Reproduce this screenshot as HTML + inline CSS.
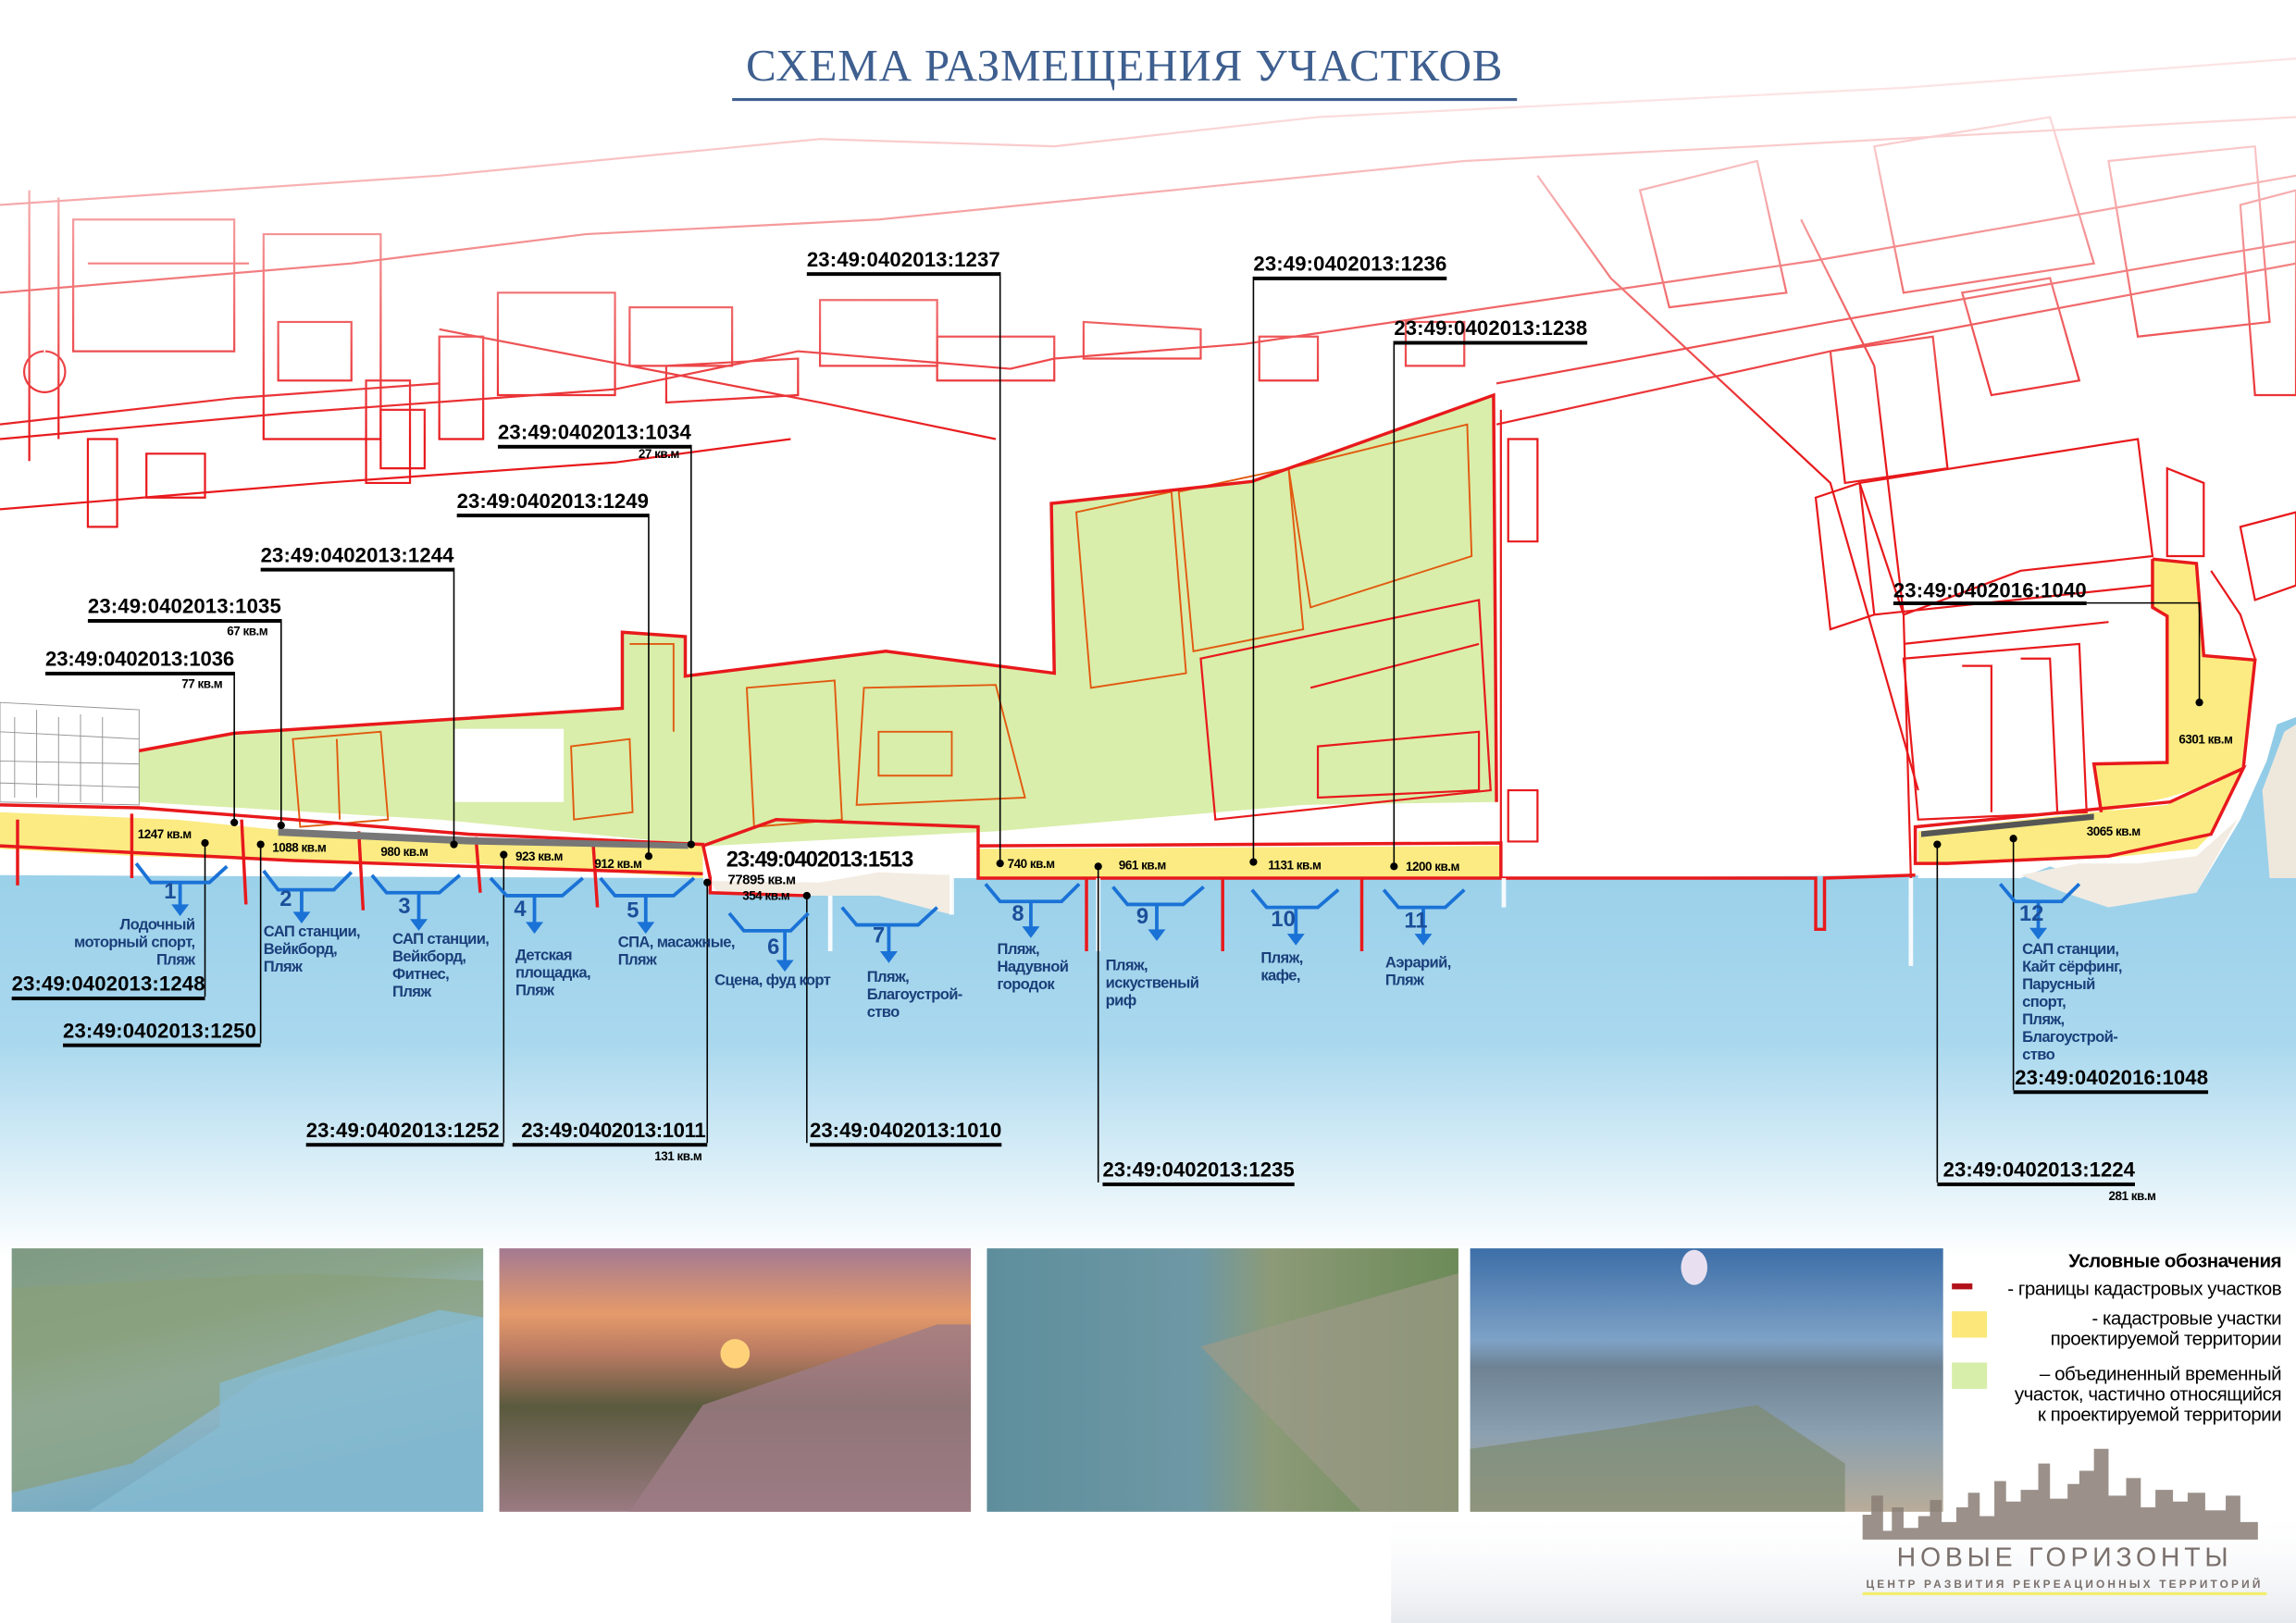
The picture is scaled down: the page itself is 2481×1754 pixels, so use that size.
<!DOCTYPE html>
<html><head><meta charset="utf-8"><style>
html,body{margin:0;padding:0;background:#fff}
svg{display:block}
.lb{font-family:"Liberation Sans Narrow","Liberation Sans",sans-serif;font-weight:bold;font-size:14px;fill:#000}
.ar{font-family:"Liberation Sans Narrow","Liberation Sans",sans-serif;font-weight:bold;font-size:8.5px;fill:#000;letter-spacing:-0.3px}
.bl{font-family:"Liberation Sans Narrow","Liberation Sans",sans-serif;font-weight:bold;font-size:10.5px;fill:#1b3f7a;letter-spacing:-0.4px}
.nm{font-family:"Liberation Sans Narrow","Liberation Sans",sans-serif;font-weight:bold;font-size:15px;fill:#1b4f9a}
.lg{font-family:"Liberation Sans Narrow","Liberation Sans",sans-serif;font-size:13px;fill:#000;text-anchor:end;letter-spacing:-0.3px}
</style></head><body>
<svg width="2481" height="1754" viewBox="0 0 1568 1109" preserveAspectRatio="none" xmlns="http://www.w3.org/2000/svg">
<defs>
<linearGradient id="sea" x1="0" y1="0" x2="0" y2="1">
<stop offset="0" stop-color="#8ecae6"/><stop offset="0.6" stop-color="#a9d8ee"/><stop offset="1" stop-color="#ffffff"/></linearGradient>
<linearGradient id="fade" gradientUnits="userSpaceOnUse" x1="0" y1="70" x2="0" y2="300">
<stop offset="0" stop-color="#fff" stop-opacity="0.12"/><stop offset="1" stop-color="#fff" stop-opacity="1"/></linearGradient>
<mask id="fm" maskUnits="userSpaceOnUse" x="0" y="0" width="1568" height="1109"><rect x="0" y="0" width="1568" height="1109" fill="url(#fade)"/></mask>
<linearGradient id="p1" x1="0" y1="0" x2="0.4" y2="1"><stop offset="0" stop-color="#7f9a84"/><stop offset="0.35" stop-color="#8aa58a"/><stop offset="0.55" stop-color="#9ab9c4"/><stop offset="1" stop-color="#6fa9c2"/></linearGradient>
<linearGradient id="p2" x1="0" y1="0" x2="0" y2="1"><stop offset="0" stop-color="#a47a92"/><stop offset="0.25" stop-color="#e59a6a"/><stop offset="0.4" stop-color="#b87a62"/><stop offset="0.6" stop-color="#5a5a3e"/><stop offset="1" stop-color="#9a7a82"/></linearGradient>
<linearGradient id="p3" x1="0" y1="0" x2="1" y2="0"><stop offset="0" stop-color="#5e8e9c"/><stop offset="0.45" stop-color="#6e98a4"/><stop offset="0.6" stop-color="#8c9a78"/><stop offset="1" stop-color="#6c8a58"/></linearGradient>
<linearGradient id="p4" x1="0" y1="0" x2="0" y2="1"><stop offset="0" stop-color="#3d6ea8"/><stop offset="0.35" stop-color="#7ea2c6"/><stop offset="0.45" stop-color="#6e8294"/><stop offset="0.7" stop-color="#8aa0b0"/><stop offset="1" stop-color="#b8ac98"/></linearGradient>
<linearGradient id="logoBg" x1="0" y1="0" x2="0" y2="1"><stop offset="0" stop-color="#fff" stop-opacity="0"/><stop offset="1" stop-color="#e6e9ee"/></linearGradient>
</defs>

<!-- sea -->
<path d="M0,598 L480,600 L485,610 L550,612 L600,598 L650,600 L1030,600 L1310,598 L1310,600 L1380,600 L1400,592 L1430,603 L1500,610 L1530,560 L1548,520 L1555,495 L1568,490 L1568,860 L0,860 Z" fill="url(#sea)"/>
<path d="M485,602 L560,603 L600,596 L650,598 L650,625 L600,612 L560,612 L550,612 L490,610Z" fill="#f3ece2"/>
<path d="M1380,598 L1420,590 L1460,590 L1500,585 L1528,560 L1500,610 L1440,620 L1410,610Z" fill="#f1ebe2"/>
<path d="M1545,540 L1560,500 L1568,495 L1568,600 L1550,600Z" fill="#eee7dc"/>

<!-- green area -->
<path d="M95,513 L160,501 L300,492 L425,484 L425,432 L468,435 L468,462 L605,445 L720,460 L718,344 L855,329 L1020,270 L1022,395 L1022,548 L890,550 L680,568 L485,578 L300,560 L95,548 Z" fill="#d9eeaa"/>
<path d="M310,498 L385,498 L385,548 L310,548Z" fill="#fff"/>
<g stroke="#666" stroke-width="0.6" fill="none" opacity="0.7">
<path d="M0,480 L95,485 L95,550 L0,548Z M10,490 L10,545 M25,485 L25,545 M40,490 L40,548 M55,488 L55,548 M70,490 L70,548 M0,500 L95,505 M0,520 L95,522 M0,535 L95,538"/>
</g>
<!-- yellow strips -->
<path d="M0,555 L120,560 L200,568 L320,572 L480,578 L480,600 L320,590 L200,588 L95,585 L0,580Z" fill="#fbeb82"/>
<path d="M668,580 L1025,578 L1025,600 L668,600Z" fill="#fbeb82"/>
<path d="M1310,568 L1430,555 L1480,550 L1530,528 L1510,570 L1500,580 L1440,586 L1330,590 L1310,590Z" fill="#fbeb82"/>
<path d="M1470,382 L1500,385 L1505,448 L1540,451 L1530,530 L1480,545 L1435,555 L1430,522 L1480,521 L1480,421 L1470,415Z" fill="#fbeb82"/>

<!-- red cadastral lines (faded on top) -->
<g mask="url(#fm)" fill="none" stroke="#e8191c" stroke-width="1.4">
<path d="M0,300 L200,282 L420,266 L545,240 L690,252 L720,245 L850,235 L1020,210 L1240,178 L1400,150 L1568,120"/>
<path d="M0,348 L220,330 L420,316 L540,300"/>
<path d="M0,290 L160,272 L300,262"/>
<path d="M0,140 L300,120 L560,95 L720,100 L900,80 L1100,70 L1300,60 L1568,40"/>
<path d="M0,200 L240,180 L400,160 L600,150 L800,130 L1000,110 L1200,100 L1568,80"/>
<path d="M1022,262 L1250,220 L1568,165"/>
<path d="M1022,290 L1250,240 L1568,180"/>
<path d="M1050,120 L1100,190 L1250,330 L1310,540"/>
<path d="M1230,150 L1280,250 L1300,420 L1305,600"/>
<path d="M300,225 L560,275 L680,300"/>
<path d="M20,130 L20,315 M40,135 L40,300 M30,240 A14,14 0 1 0 31,240"/>
<path d="M50,150 L160,150 L160,240 L50,240Z M60,180 L170,180 M180,160 L260,160 L260,300 L180,300Z M190,220 L240,220 L240,260 L190,260Z"/>
<path d="M250,260 L280,260 L280,330 L250,330Z M300,230 L330,230 L330,300 L300,300Z M340,200 L420,200 L420,270 L340,270Z"/>
<path d="M430,210 L500,210 L500,250 L430,250Z M455,250 L545,245 L545,270 L455,275Z M560,205 L640,205 L640,250 L560,250Z"/>
<path d="M640,230 L720,230 L720,260 L640,260Z M740,220 L820,225 L820,245 L740,245Z M860,230 L900,230 L900,260 L860,260Z M960,220 L1000,220 L1000,250 L960,250Z"/>
<path d="M60,300 L80,300 L80,360 L60,360Z M100,310 L140,310 L140,340 L100,340Z M260,280 L290,280 L290,320 L260,320Z"/>
<path d="M1120,130 L1200,110 L1220,200 L1140,210Z M1280,100 L1400,80 L1430,180 L1300,200Z M1440,110 L1540,100 L1550,220 L1460,230Z"/>
<path d="M1250,240 L1320,230 L1330,320 L1260,330Z M1340,200 L1400,190 L1420,260 L1360,270Z M1530,140 L1568,130 L1568,270 L1540,270Z"/>
<path d="M1270,330 L1460,300 L1470,380 L1380,390 L1300,420Z M1480,320 L1505,330 L1505,380 L1480,380Z"/>
<path d="M1240,340 L1270,330 L1280,420 L1250,430Z M1530,360 L1568,350 L1568,400 L1540,410Z M1510,390 L1530,420 L1540,450"/>
<path d="M1300,450 L1420,440 L1425,555 L1310,560Z M1340,455 L1360,455 L1360,555 M1380,450 L1400,450 L1405,555"/>
<path d="M1280,420 L1470,400 M1300,440 L1440,425"/>
<path d="M1025,280 L1025,580 M1030,300 L1050,300 L1050,370 L1030,370Z M1030,540 L1050,540 L1050,575 L1030,575Z"/>
<path d="M820,450 L1010,410 L1018,540 L830,560Z M895,470 L1010,440 M900,510 L1010,500 L1010,540 L900,545Z"/>
</g>
<g fill="none" stroke="#e15a10" stroke-width="1.2">
<path d="M735,350 L800,336 L810,460 L745,470Z M805,336 L880,320 L890,430 L815,445Z M880,320 L1002,290 L1005,380 L895,415Z"/>
<path d="M590,470 L680,468 L700,545 L585,550Z M600,500 L650,500 L650,530 L600,530Z M510,470 L570,465 L575,560 L515,565Z"/>
<path d="M200,505 L260,500 L265,560 L205,565Z M230,505 L232,560 M390,510 L430,505 L432,555 L392,560Z M430,440 L460,440 L460,500"/>
</g>
<g fill="none" stroke="#e8191c" stroke-width="2.2">
<path d="M0,550 L95,552 L200,560 L320,570 L480,577 L485,600 L485,610 L550,612"/>
<path d="M0,578 L100,583 L200,588 L320,592 L480,597"/>
<path d="M668,578 L1025,576 L1025,600 L668,600 L668,578"/>
<path d="M1025,600 L1240,600 L1240,635 L1246,635 L1246,600 L1308,598"/>
<path d="M480,578 L530,560 L668,565 L668,578"/>
<path d="M1308,565 L1430,553 L1482,548 L1532,525 L1510,570 L1440,585 L1330,590 L1308,590Z"/>
<path d="M1470,382 L1500,385 L1505,448 L1540,451 L1532,525 M1435,555 L1430,522 L1480,521 L1480,421 L1470,415 L1470,382"/>
<path d="M95,513 L160,501 L300,492 L425,484 L425,432 L468,435 L468,462 L605,445 L720,460 L718,344 L855,329 L1020,270 L1022,548"/>
<path d="M12,560 L12,605 M90,556 L90,600 M165,560 L168,618 M245,568 L248,622 M325,572 L328,610 M405,575 L408,620 M742,600 L742,650 M835,600 L835,650 M930,600 L930,650"/>
</g>
<g stroke="#ffffff" stroke-width="3" opacity="0.9">
<path d="M567,612 L567,650 M650,598 L650,625 M1027,600 L1027,620 M1305,600 L1305,660 M750,600 L750,650"/>
</g>
<path d="M190,566 L320,572 L470,576 L470,580 L320,577 L190,571Z" fill="#777"/>
<path d="M1312,568 L1430,556 L1430,560 L1312,572Z" fill="#555"/>

<!-- title -->
<text x="768" y="55" text-anchor="middle" font-family="'Liberation Serif',serif" font-size="31" fill="#3e5f8f" letter-spacing="0.5">СХЕМА РАЗМЕЩЕНИЯ УЧАСТКОВ</text>
<rect x="500" y="67" width="536" height="2" fill="#3e5f8f"/>

<g stroke="#000" stroke-width="1" fill="none">
<path d="M683,186 L683,590 M856,189 L856,589 M952,233 L952,592 M472,304 L472,577 M443,351 L443,585 M310,388 L310,577 M192,423 L192,564 M160,459 L160,562"/>
<path d="M140,576 L140,681 M178,577 L178,713 M344,584 L344,781 M483,603 L483,781 M551,612 L551,781 M750,592 L750,808 M1323,577 L1323,808 M1375,573 L1375,745 M1425,412 L1502,412 L1502,480"/>
</g>
<g fill="#000">
<circle cx="683" cy="590" r="2.6"/><circle cx="856" cy="589" r="2.6"/><circle cx="952" cy="592" r="2.6"/><circle cx="472" cy="577" r="2.6"/><circle cx="443" cy="585" r="2.6"/><circle cx="310" cy="577" r="2.6"/><circle cx="192" cy="564" r="2.6"/><circle cx="160" cy="562" r="2.6"/>
<circle cx="140" cy="576" r="2.6"/><circle cx="178" cy="577" r="2.6"/><circle cx="344" cy="584" r="2.6"/><circle cx="483" cy="603" r="2.6"/><circle cx="551" cy="612" r="2.6"/><circle cx="750" cy="592" r="2.6"/><circle cx="1323" cy="577" r="2.6"/><circle cx="1375" cy="573" r="2.6"/><circle cx="1502" cy="480" r="2.6"/>
</g>

<g class="lb">
<text x="551" y="182" textLength="132">23:49:0402013:1237</text>
<text x="856" y="185" textLength="132">23:49:0402013:1236</text>
<text x="952" y="229" textLength="132">23:49:0402013:1238</text>
<text x="340" y="300" textLength="132">23:49:0402013:1034</text>
<text x="312" y="347" textLength="131">23:49:0402013:1249</text>
<text x="178" y="384" textLength="132">23:49:0402013:1244</text>
<text x="60" y="419" textLength="132">23:49:0402013:1035</text>
<text x="31" y="455" textLength="129">23:49:0402013:1036</text>
<text x="1293" y="408" textLength="132">23:49:0402016:1040</text>
<text x="8" y="677" textLength="132">23:49:0402013:1248</text>
<text x="43" y="709" textLength="132">23:49:0402013:1250</text>
<text x="209" y="777" textLength="132">23:49:0402013:1252</text>
<text x="356" y="777" textLength="126">23:49:0402013:1011</text>
<text x="553" y="777" textLength="131">23:49:0402013:1010</text>
<text x="753" y="804" textLength="131">23:49:0402013:1235</text>
<text x="1327" y="804" textLength="131">23:49:0402013:1224</text>
<text x="1376" y="741" textLength="132">23:49:0402016:1048</text>
<text x="496" y="592" textLength="128" font-size="15">23:49:0402013:1513</text>
</g>
<g fill="#000">
<rect x="551" y="186" width="132" height="2.5"/><rect x="856" y="189" width="132" height="2.5"/><rect x="952" y="233" width="132" height="2.5"/>
<rect x="340" y="304" width="132" height="2.5"/><rect x="312" y="351" width="131" height="2.5"/><rect x="178" y="388" width="132" height="2.5"/>
<rect x="60" y="423" width="132" height="2.5"/><rect x="31" y="459" width="129" height="2.5"/><rect x="1293" y="411" width="132" height="2.5"/>
<rect x="8" y="681" width="132" height="2.5"/><rect x="43" y="713" width="135" height="2.5"/><rect x="209" y="781" width="135" height="2.5"/>
<rect x="350" y="781" width="133" height="2.5"/><rect x="553" y="781" width="131" height="2.5"/><rect x="753" y="808" width="131" height="2.5"/>
<rect x="1323" y="808" width="135" height="2.5"/><rect x="1375" y="745" width="133" height="2.5"/>
</g>
<g class="ar">
<text x="436" y="313">27 кв.м</text><text x="155" y="434">67 кв.м</text><text x="124" y="470">77 кв.м</text>
<text x="447" y="793">131 кв.м</text><text x="1440" y="820">281 кв.м</text>
<text x="497" y="604" font-size="9.5">77895 кв.м</text><text x="507" y="615">354 кв.м</text>
<text x="94" y="573">1247 кв.м</text><text x="186" y="582">1088 кв.м</text><text x="260" y="585">980 кв.м</text>
<text x="352" y="588">923 кв.м</text><text x="406" y="593">912 кв.м</text><text x="688" y="593">740 кв.м</text>
<text x="764" y="594">961 кв.м</text><text x="866" y="594">1131 кв.м</text><text x="960" y="595">1200 кв.м</text>
<text x="1425" y="571">3065 кв.м</text><text x="1488" y="508">6301 кв.м</text>
</g>

<g stroke="#1a72d6" stroke-width="2.4" fill="none">
<path d="M93,590 L103,603 L143,603 L155,592 M123,603 L123,620"/>
<path d="M180,595 L190,608 L228,608 L240,596 M206,608 L206,625"/>
<path d="M254,598 L264,610 L300,610 L314,598 M286,610 L286,630"/>
<path d="M335,600 L346,612 L384,612 L398,600 M365,612 L365,632"/>
<path d="M410,600 L420,612 L460,612 L474,600 M441,612 L441,632"/>
<path d="M498,624 L508,636 L540,636 L552,624 M536,636 L536,658"/>
<path d="M575,620 L585,632 L627,632 L640,620 M607,632 L607,652"/>
<path d="M673,604 L683,616 L725,616 L737,604 M704,616 L704,635"/>
<path d="M760,606 L770,618 L808,618 L822,606 M790,618 L790,637"/>
<path d="M855,608 L865,620 L900,620 L914,608 M885,620 L885,640"/>
<path d="M945,608 L955,620 L987,620 L1000,608 M972,620 L972,640"/>
<path d="M1366,604 L1376,616 L1408,616 L1420,604 M1392,616 L1392,636"/>
</g>
<g fill="#1a72d6">
<path d="M117,618 L129,618 L123,626Z"/><path d="M200,623 L212,623 L206,631Z"/><path d="M280,628 L292,628 L286,636Z"/>
<path d="M359,630 L371,630 L365,638Z"/><path d="M435,630 L447,630 L441,638Z"/><path d="M530,656 L542,656 L536,664Z"/>
<path d="M601,650 L613,650 L607,658Z"/><path d="M698,633 L710,633 L704,641Z"/><path d="M784,635 L796,635 L790,643Z"/>
<path d="M879,638 L891,638 L885,646Z"/><path d="M966,638 L978,638 L972,646Z"/><path d="M1386,634 L1398,634 L1392,642Z"/>
</g>
<g class="nm">
<text x="112" y="614">1</text><text x="191" y="619">2</text><text x="272" y="624">3</text><text x="351" y="626">4</text>
<text x="428" y="627">5</text><text x="524" y="652">6</text><text x="596" y="644">7</text><text x="691" y="629">8</text>
<text x="776" y="631">9</text><text x="868" y="633">10</text><text x="959" y="634">11</text><text x="1379" y="629">12</text>
</g>
<g class="bl">
<text text-anchor="end"><tspan x="133" y="635">Лодочный</tspan><tspan x="133" y="647">моторный спорт,</tspan><tspan x="133" y="659">Пляж</tspan></text>
<text><tspan x="180" y="640">САП станции,</tspan><tspan x="180" y="652">Вейкборд,</tspan><tspan x="180" y="664">Пляж</tspan></text>
<text><tspan x="268" y="645">САП станции,</tspan><tspan x="268" y="657">Вейкборд,</tspan><tspan x="268" y="669">Фитнес,</tspan><tspan x="268" y="681">Пляж</tspan></text>
<text><tspan x="352" y="656">Детская</tspan><tspan x="352" y="668">площадка,</tspan><tspan x="352" y="680">Пляж</tspan></text>
<text><tspan x="422" y="647">СПА, масажные,</tspan><tspan x="422" y="659">Пляж</tspan></text>
<text x="488" y="673">Сцена, фуд корт</text>
<text><tspan x="592" y="671">Пляж,</tspan><tspan x="592" y="683">Благоустрой-</tspan><tspan x="592" y="695">ство</tspan></text>
<text><tspan x="681" y="652">Пляж,</tspan><tspan x="681" y="664">Надувной</tspan><tspan x="681" y="676">городок</tspan></text>
<text><tspan x="755" y="663">Пляж,</tspan><tspan x="755" y="675">искуственый</tspan><tspan x="755" y="687">риф</tspan></text>
<text><tspan x="861" y="658">Пляж,</tspan><tspan x="861" y="670">кафе,</tspan></text>
<text><tspan x="946" y="661">Аэрарий,</tspan><tspan x="946" y="673">Пляж</tspan></text>
<text><tspan x="1381" y="652">САП станции,</tspan><tspan x="1381" y="664">Кайт сёрфинг,</tspan><tspan x="1381" y="676">Парусный</tspan><tspan x="1381" y="688">спорт,</tspan><tspan x="1381" y="700">Пляж,</tspan><tspan x="1381" y="712">Благоустрой-</tspan><tspan x="1381" y="724">ство</tspan></text>
</g>

<rect x="950" y="1030" width="618" height="79" fill="url(#logoBg)"/>

<rect x="8" y="853" width="322" height="180" fill="url(#p1)"/>
<path d="M8,880 L200,870 L330,875 L330,900 L180,940 L150,960 L90,1000 L8,1020Z" fill="#8aa07a" opacity="0.7"/>
<path d="M150,945 L300,895 L330,900 L330,1033 L60,1033 L150,975Z" fill="#86bcd2" opacity="0.8"/>
<rect x="341" y="853" width="322" height="180" fill="url(#p2)"/>
<path d="M480,960 L640,905 L663,905 L663,1033 L430,1033Z" fill="#9e7c86" opacity="0.8"/>
<circle cx="502" cy="925" r="10" fill="#ffd27a"/>
<rect x="674" y="853" width="322" height="180" fill="url(#p3)"/>
<path d="M820,920 L996,870 L996,1033 L930,1033Z" fill="#9c9a88" opacity="0.7"/>
<rect x="1004" y="853" width="323" height="180" fill="url(#p4)"/>
<path d="M1004,990 L1110,975 L1200,960 L1260,1000 L1260,1033 L1004,1033Z" fill="#7d8a70" opacity="0.7"/>
<ellipse cx="1157" cy="866" rx="9" ry="12" fill="#e8e0f0"/>

<text class="lg" x="1558" y="866" font-weight="bold" font-size="14">Условные обозначения</text>
<rect x="1333" y="877" width="14" height="4" fill="#b3121a"/>
<text class="lg" x="1558" y="885">- границы кадастровых участков</text>
<rect x="1333" y="896" width="24" height="18" fill="#fbe77a"/>
<text class="lg" x="1558" y="905">- кадастровые участки</text>
<text class="lg" x="1558" y="919">проектируемой территории</text>
<rect x="1333" y="931" width="24" height="18" fill="#d7eeaa"/>
<text class="lg" x="1558" y="943">– объединенный временный</text>
<text class="lg" x="1558" y="957">участок, частично относящийся</text>
<text class="lg" x="1558" y="971">к проектируемой территории</text>

<path d="M1272,1052 L1272,1035 L1278,1035 L1278,1022 L1286,1022 L1286,1046 L1292,1046 L1292,1030 L1300,1030 L1300,1044 L1310,1044 L1310,1036 L1318,1036 L1318,1025 L1326,1025 L1326,1040 L1336,1040 L1336,1030 L1344,1030 L1344,1020 L1352,1020 L1352,1036 L1362,1036 L1362,1012 L1370,1012 L1370,1026 L1380,1026 L1380,1018 L1392,1018 L1392,1000 L1400,1000 L1400,1024 L1412,1024 L1412,1014 L1420,1014 L1420,1005 L1430,1005 L1430,990 L1440,990 L1440,1022 L1452,1022 L1452,1010 L1462,1010 L1462,1030 L1472,1030 L1472,1018 L1484,1018 L1484,1026 L1494,1026 L1494,1020 L1506,1020 L1506,1032 L1520,1032 L1520,1022 L1530,1022 L1530,1040 L1542,1040 L1542,1052Z" fill="#8a7e76" opacity="0.85"/>
<text x="1410" y="1070" text-anchor="middle" font-family="'Liberation Sans Narrow','Liberation Sans',sans-serif" font-size="18" fill="#7a706c" letter-spacing="3">НОВЫЕ ГОРИЗОНТЫ</text>
<text x="1410" y="1085" text-anchor="middle" font-family="'Liberation Sans Narrow','Liberation Sans',sans-serif" font-size="7.5" font-weight="bold" fill="#7a706c" letter-spacing="2">ЦЕНТР РАЗВИТИЯ РЕКРЕАЦИОННЫХ ТЕРРИТОРИЙ</text>
<rect x="1272" y="1088" width="276" height="2" fill="#f2ee6a"/>
</svg>
</body></html>
